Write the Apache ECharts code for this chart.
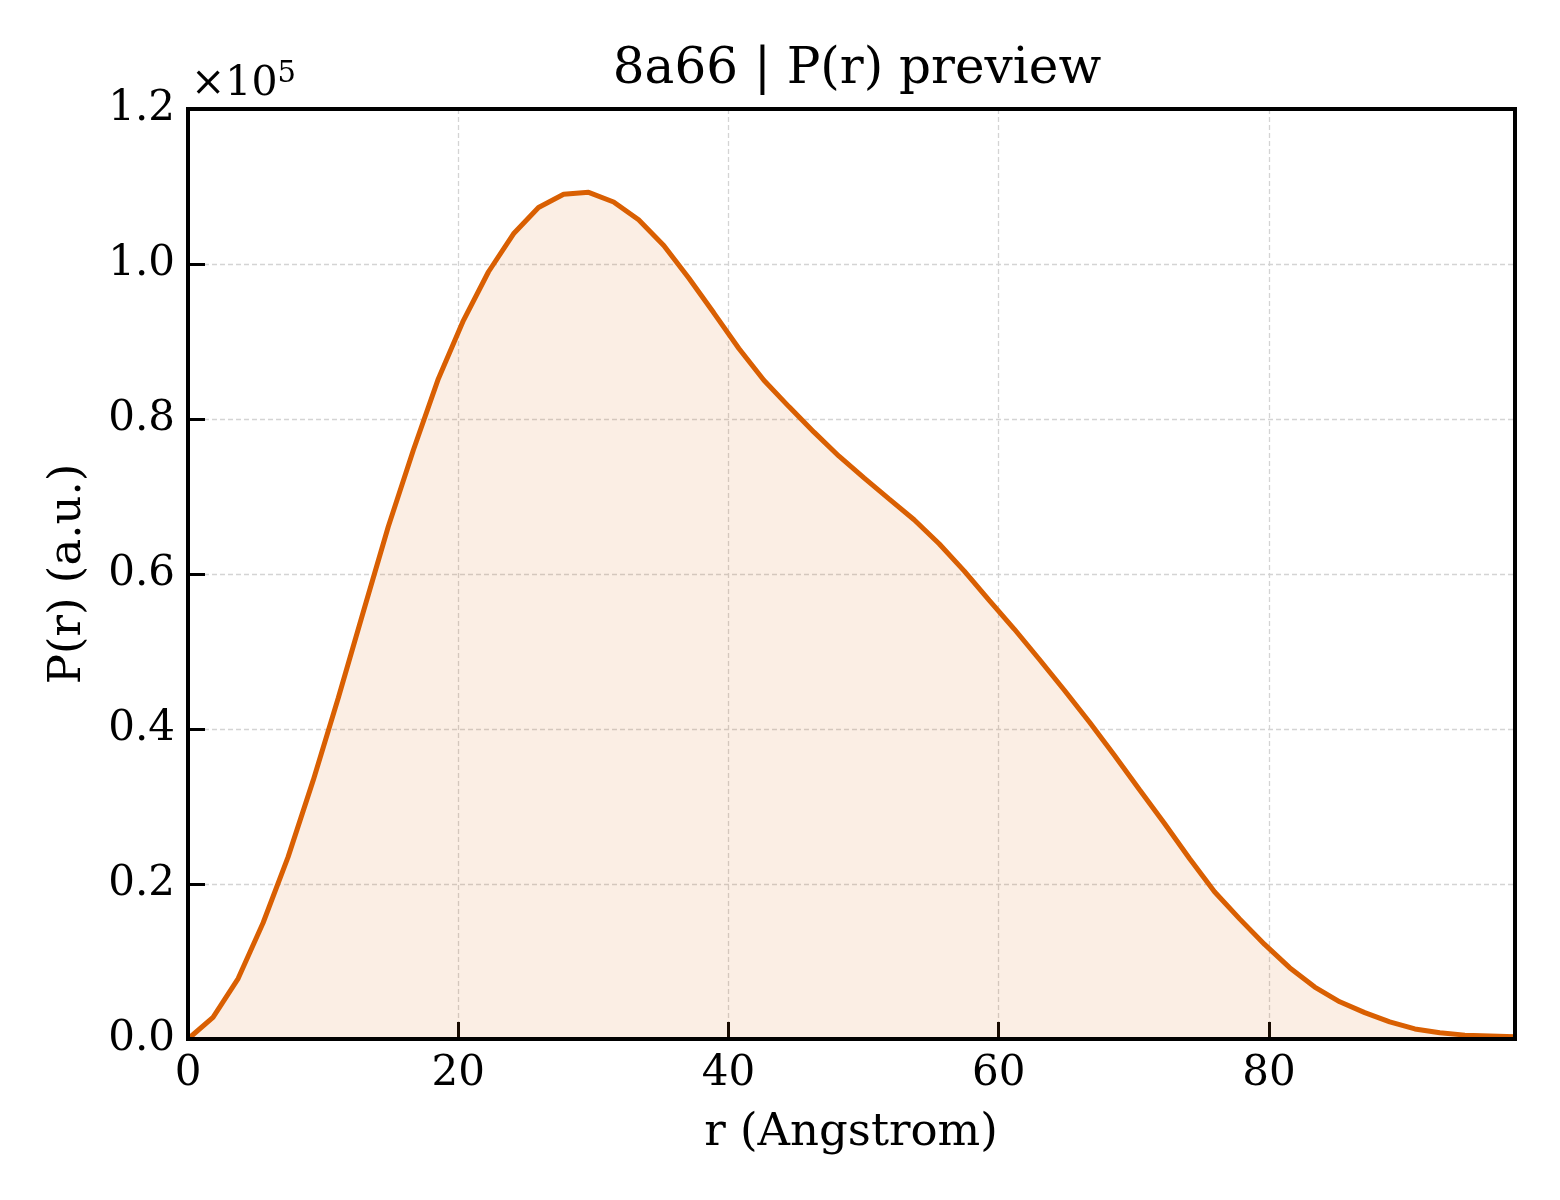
<!DOCTYPE html>
<html>
<head>
<meta charset="utf-8">
<script src="https://cdn.jsdelivr.net/npm/echarts@6/dist/echarts.min.js"></script>
<style>
html,body{margin:0;padding:0;background:#fff;}
#chart{width:1560px;height:1200px;}
</style>
</head>
<body>
<div id="chart"></div>
<script>
// r in Angstrom
const rValues = [0, 1.85, 3.71, 5.56, 7.41, 9.27, 11.12, 12.97, 14.82, 16.68, 18.53, 20.38, 22.24, 24.09,
  25.94, 27.80, 29.65, 31.50, 33.35, 35.21, 37.06, 38.91, 40.77, 42.62, 44.47, 46.33, 48.18, 50.03,
  51.88, 53.74, 55.59, 57.44, 59.30, 61.15, 63.00, 64.86, 66.71, 68.56, 70.41, 72.27, 74.12, 75.97,
  77.83, 79.68, 81.53, 83.39, 85.24, 87.09, 88.94, 90.80, 92.65, 94.50, 96.36, 98.21];
// P(r) in a.u.
const pValues = [0, 2800, 7800, 15000, 23500, 33400, 44000, 55100, 66100, 76000, 85200, 92700, 99000, 103900,
  107300, 109000, 109250, 108000, 105700, 102400, 98200, 93700, 89100, 85000, 81600, 78300, 75200, 72400,
  69700, 67000, 63900, 60400, 56600, 52900, 49000, 45000, 40900, 36600, 32200, 27800, 23300, 19000,
  15500, 12200, 9200, 6700, 4800, 3400, 2200, 1300, 800, 500, 400, 300];
const xTicks = [0, 20, 40, 60, 80];
const yTicks = [0, 20000, 40000, 60000, 80000, 100000, 120000];
const titleText = '8a66 | P(r) preview';
const xLabel = 'r (Angstrom)';
const yLabel = 'P(r) (a.u.)';

const FONT = 'DejaVu Serif';
const G = {left: 188, right: 45, top: 109, bottom: 161};
const W = 1560, H = 1200;
const chart = echarts.init(document.getElementById('chart'), null, {renderer: 'canvas'});
const data = rValues.map((r, i) => [r, pValues[i]]);

chart.setOption({
  animation: false,
  backgroundColor: '#ffffff',
  title: {
    text: titleText,
    left: 852, top: 40, textAlign: 'center',
    textStyle: {fontFamily: FONT, fontWeight: 'normal', fontSize: 50, color: '#000'}
  },
  grid: {left: G.left, right: G.right, top: G.top, bottom: G.bottom, show: false},
  xAxis: {
    type: 'value', min: 0, max: rValues[rValues.length - 1], interval: 20,
    axisLine: {show: true, lineStyle: {color: '#000', width: 4}},
    axisTick: {show: true, inside: true, length: 17, lineStyle: {color: '#000', width: 3}},
    axisLabel: {show: true, margin: 14, fontFamily: FONT, fontSize: 42, color: '#000', showMaxLabel: false,
      formatter: v => xTicks.includes(v) ? String(v) : ''},
    splitLine: {show: true, showMinLine: false, showMaxLine: false, lineStyle: {color: '#d4d4d4', width: 1.3, type: [5, 3]}}
  },
  yAxis: {
    type: 'value', min: 0, max: 120000, interval: 20000,
    axisLine: {show: true, lineStyle: {color: '#000', width: 4}},
    axisTick: {show: true, inside: true, length: 17, lineStyle: {color: '#000', width: 3}},
    axisLabel: {show: true, margin: 13, fontFamily: FONT, fontSize: 42, color: '#000',
      formatter: v => yTicks.includes(v) ? (v / 1e5).toFixed(1) : ''},
    splitLine: {show: true, showMinLine: false, showMaxLine: false, lineStyle: {color: '#d4d4d4', width: 1.3, type: [5, 3]}}
  },
  graphic: [
    {type: 'rect', z: 100, silent: true,
      shape: {x: G.left, y: G.top, width: W - G.left - G.right, height: H - G.top - G.bottom},
      style: {fill: 'none', stroke: '#000', lineWidth: 4}},
    {type: 'text', x: 68, y: 574, rotation: Math.PI / 2,
      style: {text: yLabel, font: '45px "DejaVu Serif"', fill: '#000', textAlign: 'center', textVerticalAlign: 'middle'}},
    {type: 'text', x: 851, y: 1133,
      style: {text: xLabel, font: '45px "DejaVu Serif"', fill: '#000', textAlign: 'center', textVerticalAlign: 'middle'}},
    {type: 'text', x: 191, y: 82,
      style: {
        text: '{a|×10}{b|5}',
        textVerticalAlign: 'middle',
        rich: {
          a: {fontFamily: FONT, fontSize: 41, fill: '#000', color: '#000', verticalAlign: 'bottom'},
          b: {fontFamily: FONT, fontSize: 29, fill: '#000', color: '#000', verticalAlign: 'top', padding: [0, 0, 16, 0]}
        }
      }}
  ],
  series: [{
    type: 'line',
    data: data,
    showSymbol: false,
    smooth: false,
    lineStyle: {color: '#d95f02', width: 5},
    areaStyle: {color: 'rgba(217,95,2,0.15)', origin: 'start'},
    z: 3
  }]
});
</script>
</body>
</html>
